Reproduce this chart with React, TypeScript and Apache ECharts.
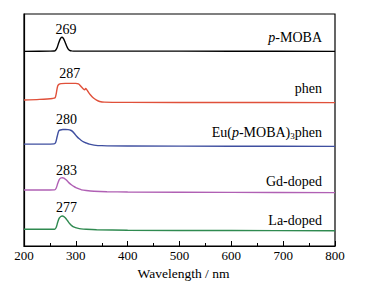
import React, { useEffect, useRef } from "react";
import * as echarts from "echarts";

const FONT = "Times New Roman, Liberation Serif, serif";

// Series (wavelength in nm, intensity relative to each trace's baseline offset)
const pMobaWl = [200, 250, 258, 261, 264, 267, 270, 273, 276, 279, 282, 285, 288, 292, 300, 400, 600, 800];
const pMobaVal = [-0.1, 0, 0.05, 0.4, 1.6, 3.6, 5.3, 6.0, 5.5, 4.0, 2.3, 1.0, 0.35, 0.1, 0, 0, -0.05, -0.1];

const phenWl = [200, 230, 255, 260, 262, 265, 268, 272, 280, 290, 300, 305, 308, 311, 314, 317, 319, 321, 324, 328, 334, 340, 346, 355, 400, 600, 800];
const phenVal = [0.9, 1.2, 1.6, 1.9, 3.5, 7.0, 7.8, 8.0, 8.1, 8.1, 8.1, 7.9, 7.3, 6.5, 5.8, 5.3, 5.9, 5.4, 4.4, 3.2, 1.8, 0.9, 0.3, 0.0, -0.1, -0.15, -0.2];

const euWl = [200, 240, 258, 261, 264, 267, 270, 275, 280, 285, 290, 294, 298, 302, 306, 310, 315, 320, 326, 335, 350, 400, 600, 800];
const euVal = [0.9, 0.9, 1.0, 1.6, 4.2, 6.6, 7.0, 7.2, 7.2, 7.15, 6.9, 6.3, 5.3, 4.2, 3.3, 2.6, 1.9, 1.4, 0.9, 0.5, 0.25, 0.1, 0.0, -0.05];

const gdWl = [200, 250, 259, 262, 265, 268, 271, 274, 277, 280, 284, 288, 292, 296, 300, 305, 311, 320, 335, 360, 400, 600, 800];
const gdVal = [1.15, 1.15, 1.2, 1.9, 3.9, 5.6, 6.3, 6.45, 6.3, 5.8, 4.9, 4.0, 3.3, 2.7, 2.2, 1.7, 1.2, 0.9, 0.6, 0.4, 0.3, 0.1, 0.0];

const laWl = [200, 250, 259, 262, 265, 268, 271, 274, 277, 280, 284, 288, 292, 297, 303, 310, 320, 340, 400, 600, 800];
const laVal = [0.6, 0.6, 0.65, 1.4, 3.6, 5.4, 6.1, 6.3, 6.1, 5.5, 4.3, 3.1, 2.2, 1.5, 1.1, 0.8, 0.6, 0.4, 0.2, 0.05, 0.0];

const seriesNames = ["p-MOBA", "phen", "Eu(p-MOBA)3phen", "Gd-doped", "La-doped"];
const offsets = [84, 62, 43, 23, 6.6];
const colors = ["#000000", "#e0503a", "#3f4fa0", "#b060b4", "#2f8a50"];

// Peak annotations
const peakText = ["269", "287", "280", "283", "277"];
const peakWl = [282, 289, 283, 283, 283];
const peakY = [93.1, 74.1, 54.3, 32.3, 16.4];

const xTicks = [200, 300, 400, 500, 600, 700, 800];

function build(wl: number[], val: number[], off: number) {
  return wl.map((w, i) => [w, val[i] + off]);
}

export default function App() {
  const ref = useRef<HTMLDivElement>(null);
  useEffect(() => {
    if (!ref.current) return;
    const chart = echarts.init(ref.current, undefined, { renderer: "svg" });
    const wls = [pMobaWl, phenWl, euWl, gdWl, laWl];
    const vals = [pMobaVal, phenVal, euVal, gdVal, laVal];
    const lineSeries = seriesNames.map((n, i) => ({
      name: n,
      type: "line",
      data: build(wls[i], vals[i], offsets[i]),
      smooth: 0.3,
      showSymbol: false,
      symbol: "none",
      lineStyle: { color: colors[i], width: 1.4 },
      z: 3,
    }));
    const rightLabelY = [37, 88, 132, 181.5, 220];
    const rightX = 322;
    const txt = (y: number, text: string, rich?: any) => ({
      type: "text",
      x: rightX,
      y,
      style: {
        text,
        align: "right",
        verticalAlign: "middle",
        fontFamily: FONT,
        fontSize: 14,
        fill: "#000",
        rich,
      },
    });
    chart.setOption({
      animation: false,
      textStyle: { fontFamily: FONT },
      grid: { left: 24, right: 47, top: 14, bottom: 44, show: true, borderColor: "#000", borderWidth: 1.2 },
      xAxis: {
        type: "value",
        min: xTicks[0],
        max: xTicks[xTicks.length - 1],
        interval: 100,
        name: "Wavelength / nm",
        nameLocation: "middle",
        nameGap: 18,
        nameTextStyle: { fontFamily: FONT, fontSize: 13.5, color: "#000", padding: [0, 0, 0, 8] },
        axisLine: { show: true, lineStyle: { color: "#000", width: 1.2 } },
        axisTick: { show: true, inside: true, length: 5, lineStyle: { color: "#000", width: 1 } },
        minorTick: { show: true, splitNumber: 2, length: 3, lineStyle: { color: "#000", width: 1 } },
        axisLabel: { fontFamily: FONT, fontSize: 13, color: "#000", margin: 3 },
        splitLine: { show: false },
      },
      yAxis: {
        type: "value",
        min: 0,
        max: 100,
        axisLine: { show: true, lineStyle: { color: "#000", width: 1.2 } },
        axisTick: { show: false },
        axisLabel: { show: false },
        splitLine: { show: false },
      },
      series: [
        ...lineSeries,
        {
          type: "scatter",
          symbolSize: 1,
          itemStyle: { opacity: 0 },
          data: peakText.map((t, i) => ({ value: [peakWl[i], peakY[i]], name: t })),
          label: {
            show: true,
            position: [0, 0],
            align: "center",
            verticalAlign: "middle",
            formatter: (p: any) => p.name,
            fontFamily: FONT,
            fontSize: 14,
            color: "#000",
            textBorderWidth: 0,
            opacity: 1,
          },
          silent: true,
          z: 5,
        },
      ],
      graphic: [
        txt(rightLabelY[0], "{i|p}{r|-MOBA}", {
          i: { fontStyle: "italic", fontFamily: FONT, fontSize: 14 },
          r: { fontFamily: FONT, fontSize: 14 },
        }),
        txt(rightLabelY[1], "phen"),
        txt(rightLabelY[2], "{r|Eu(}{i|p}{r|-MOBA)}{s|3}{r|phen}", {
          r: { fontFamily: FONT, fontSize: 14 },
          i: { fontStyle: "italic", fontFamily: FONT, fontSize: 14 },
          s: { fontFamily: FONT, fontSize: 9, verticalAlign: "bottom", padding: [8, 0, 0, 0] },
        }),
        txt(rightLabelY[3], "Gd-doped"),
        txt(rightLabelY[4], "La-doped"),
      ],
    });
    return () => chart.dispose();
  }, []);
  return <div ref={ref} style={{ width: 382, height: 290, position: "absolute", left: 0, top: 0 }} />;
}
